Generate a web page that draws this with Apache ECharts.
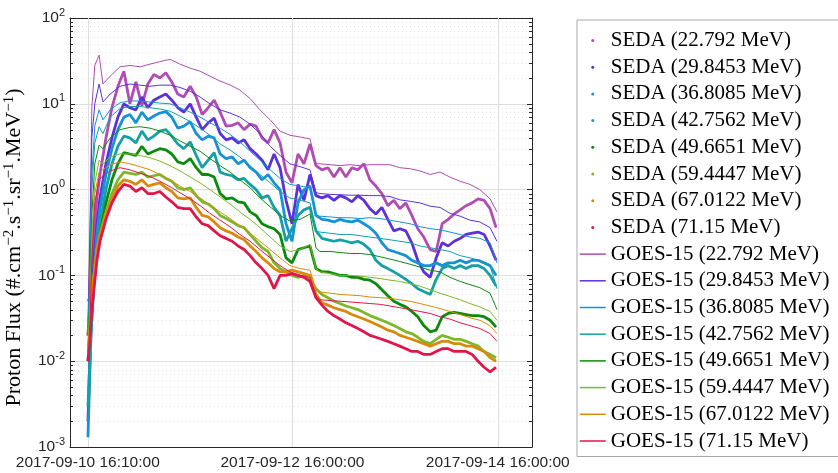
<!DOCTYPE html>
<html lang="en">
<head>
  <meta charset="UTF-8">
  <title>Proton Flux</title>
  <style>
    html, body { margin: 0; padding: 0; background: #fff; }
    #chart { width: 838px; height: 473px; }
  </style>
</head>
<body>
  <div id="chart"></div>
  <script src="https://cdn.jsdelivr.net/npm/echarts@6.0.0/dist/echarts.min.js"></script>
  <script>
    // energies and colours, same order for SEDA and GOES-15
    var energies = ['22.792', '29.8453', '36.8085', '42.7562', '49.6651', '59.4447', '67.0122', '71.15'];
    var colors = ['#b04cb4', '#5b31d8', '#1692d6', '#179fa6', '#0b8b0b', '#7ab82e', '#d98a0a', '#e0164a'];

    // x in hours since 2017-09-10 12:00:00
    var xTickHours = [4 + 10 / 60, 52, 100];
    var xTickLabels = ['2017-09-10 16:10:00', '2017-09-12 16:00:00', '2017-09-14 16:00:00'];

    // SEDA samples
    var sedaHours = [4.2, 4.9, 5.6, 6.3, 7.0,
      8.4, 9.8, 11.2, 12.6, 14.0, 15.4, 16.8, 18.2, 19.6, 21.0,
      22.4, 23.8, 25.2, 26.6, 28.1, 29.5, 30.9, 32.3, 33.7, 35.1,
      36.5, 37.9, 39.3, 40.7, 42.1, 43.5, 44.9, 46.3, 47.7, 49.1,
      50.5, 51.9, 53.3, 54.7, 56.1, 57.5, 58.9, 60.3, 61.7, 63.1,
      64.5, 65.9, 67.3, 68.7, 70.1, 71.5, 72.9, 74.3, 75.7, 77.1,
      78.5, 79.9, 81.3, 82.7, 84.2, 85.6, 87.0, 88.4, 89.8, 91.2,
      92.6, 94.0, 95.4, 96.8, 98.2, 99.6];
    var seda1 = [0.02, 0.08, 0.3, 0.8, 1.5,
      4.0, 9, 16, 24, 10, 18, 9.5, 17, 22, 20,
      23, 18, 13, 12, 16, 12, 7.5, 9, 11, 8,
      5.5, 5.6, 6, 5, 5.8, 5.5, 4, 3.5, 5, 3.5,
      1.6, 1.2, 2.6, 2.0, 3.4, 1.9, 1.7, 1.8, 1.4, 1.8,
      1.4, 1.8, 1.7, 2.0, 1.3, 1.1, 0.9, 0.65, 0.75, 0.6,
      0.7, 0.5, 0.35, 0.28, 0.2, 0.19, 0.4, 0.45, 0.52, 0.58,
      0.65, 0.7, 0.78, 0.75, 0.6, 0.36];
    var seda2 = [0.002, 0.03, 0.15, 0.4, 0.8,
      2.0, 4.0, 7, 10, 9, 8.5, 12, 9, 11, 12,
      13, 11, 9, 8, 10, 7, 5, 6, 6.8, 4.5,
      3.8, 4.0, 3.5, 3.8, 3.0, 2.6, 2.2, 1.7, 2.6, 1.8,
      0.75, 0.4, 1.15, 0.75, 1.5, 0.85, 0.8, 0.85, 0.75, 0.85,
      0.8, 0.72, 0.85, 0.75, 0.6, 0.52, 0.62, 0.45, 0.33, 0.35,
      0.33, 0.24, 0.15, 0.11, 0.095, 0.16, 0.24, 0.22, 0.25, 0.27,
      0.3, 0.31, 0.32, 0.3, 0.22, 0.15];
    var seda3 = [0.0013, 0.02, 0.1, 0.3, 0.6,
      1.5, 3.0, 5, 7, 7.5, 6, 8, 6.5, 7.2, 7.8,
      8.1, 7, 5.2, 5.5, 6.2, 4.5, 3.8, 4.2, 4.0, 2.6,
      2.3, 2.4, 2.0, 2.2, 1.8, 1.6, 1.3, 1.5, 1.2, 1.0,
      0.4, 0.25, 0.7, 1.0, 1.1, 0.5, 0.45, 0.44, 0.42, 0.45,
      0.43, 0.42, 0.44, 0.4, 0.36, 0.31, 0.24, 0.2, 0.19, 0.18,
      0.17, 0.15, 0.14, 0.13, 0.13, 0.14, 0.13, 0.14, 0.14, 0.15,
      0.14, 0.15, 0.15, 0.14, 0.13, 0.1];
    var seda4 = [0.003, 0.02, 0.08, 0.2, 0.4,
      1.0, 2.0, 3.2, 4.2, 4.0, 3.5, 4.8, 3.8, 4.2, 4.8,
      5.0, 4.2, 3.4, 3.0, 3.6, 2.5, 1.8, 2.2, 2.7, 1.6,
      1.5, 1.45, 1.3, 1.35, 1.15, 1.0, 0.8, 0.85, 0.62, 0.5,
      0.25, 0.35, 0.5, 0.58, 0.62, 0.33, 0.27, 0.26, 0.25, 0.26,
      0.25, 0.24, 0.25, 0.23, 0.2, 0.15, 0.13, 0.12, 0.11, 0.1,
      0.09, 0.08, 0.07, 0.065, 0.06, 0.09, 0.12, 0.13, 0.12, 0.13,
      0.12, 0.13, 0.13, 0.12, 0.1, 0.075];
    var seda5 = [0.01, 0.03, 0.08, 0.18, 0.3,
      0.7, 1.3, 2.0, 2.7, 2.6, 2.5, 3.2, 2.6, 2.8, 3.0,
      2.9, 2.6, 2.1, 2.0, 2.3, 1.8, 1.5, 1.5, 1.4, 0.9,
      0.78, 0.8, 0.72, 0.7, 0.55, 0.5, 0.4, 0.37, 0.35, 0.3,
      0.16, 0.14, 0.2, 0.21, 0.22, 0.12, 0.11, 0.11, 0.105, 0.1,
      0.1, 0.095, 0.095, 0.09, 0.088, 0.08, 0.068, 0.058, 0.05, 0.046,
      0.043, 0.038, 0.033, 0.026, 0.022, 0.023, 0.033, 0.036, 0.037, 0.036,
      0.035, 0.034, 0.034, 0.033, 0.03, 0.025];
    var seda6 = [0.02, 0.05, 0.1, 0.2, 0.3,
      0.55, 0.9, 1.3, 1.6, 1.55, 1.5, 1.6, 1.4, 1.45, 1.5,
      1.35, 1.25, 1.05, 1.0, 1.05, 0.85, 0.72, 0.68, 0.6, 0.5,
      0.46, 0.42, 0.38, 0.36, 0.3, 0.25, 0.21, 0.19, 0.14, 0.12,
      0.11, 0.1, 0.095, 0.1, 0.09, 0.07, 0.06, 0.055, 0.05, 0.047,
      0.044, 0.042, 0.04, 0.037, 0.034, 0.032, 0.03, 0.028, 0.026, 0.024,
      0.022, 0.021, 0.019, 0.017, 0.016, 0.018, 0.02, 0.019, 0.018, 0.018,
      0.017, 0.016, 0.015, 0.013, 0.012, 0.011];
    var seda7 = [0.05, 0.06, 0.1, 0.2, 0.3,
      0.5, 0.8, 1.1, 1.3, 1.25, 1.15, 1.3, 1.1, 1.15, 1.2,
      1.05, 0.95, 0.8, 0.78, 0.8, 0.62, 0.5, 0.48, 0.42, 0.36,
      0.33, 0.31, 0.28, 0.26, 0.22, 0.19, 0.16, 0.14, 0.12, 0.11,
      0.11, 0.115, 0.11, 0.105, 0.1, 0.06, 0.048, 0.045, 0.042, 0.04,
      0.038, 0.035, 0.033, 0.031, 0.029, 0.027, 0.025, 0.023, 0.022, 0.02,
      0.019, 0.018, 0.017, 0.016, 0.015, 0.016, 0.017, 0.017, 0.016, 0.016,
      0.015, 0.015, 0.014, 0.013, 0.011, 0.01];
    var seda8 = [0.01, 0.03, 0.07, 0.15, 0.25,
      0.45, 0.7, 0.95, 1.15, 1.1, 0.95, 1.05, 0.9, 0.9, 0.95,
      0.82, 0.72, 0.62, 0.6, 0.6, 0.48, 0.4, 0.38, 0.33, 0.29,
      0.27, 0.25, 0.22, 0.2, 0.17, 0.14, 0.12, 0.1, 0.07, 0.1,
      0.1, 0.105, 0.1, 0.095, 0.085, 0.055, 0.045, 0.038, 0.034, 0.031,
      0.028, 0.026, 0.024, 0.022, 0.02, 0.019, 0.018, 0.017, 0.016, 0.015,
      0.014, 0.013, 0.013, 0.012, 0.012, 0.013, 0.014, 0.014, 0.013, 0.013,
      0.013, 0.012, 0.01, 0.0085, 0.0075, 0.0085];

    // GOES-15 samples
    var goesHours = [4.2, 4.7, 5.1, 5.8, 6.8, 7.7, 9.4,
      11.7, 14.0, 16.4, 18.7, 21.0, 23.4, 25.7, 28.1, 30.4, 32.7,
      35.1, 37.4, 39.7, 42.1, 44.4, 46.8, 49.1, 51.4, 53.8, 56.1,
      57.5, 58.4,
      60.8, 63.1, 65.5, 67.8, 70.1, 72.5, 74.8, 77.1, 79.5, 81.8,
      84.2, 86.5, 88.8, 91.2, 93.5, 95.8, 98.2,
      99.8];
    var goes1 = [0.03, 0.5, 9, 28, 37, 17, 21,
      27, 28, 27, 29, 31, 33, 29, 26, 24, 21,
      18.4, 16.6, 14.5, 11.5, 8.5, 6.5, 4.8, 4.3, 4.1, 3.9,
      2.0, 2.0,
      1.95, 1.9, 1.95, 1.9, 1.95, 1.95, 1.95, 1.8, 1.75, 1.65,
      1.5, 1.6, 1.4, 1.25, 1.15, 1.0, 0.78,
      0.55];
    var goes2 = [0.02, 0.3, 4, 10, 17, 10.5, 13,
      16, 17, 16.5, 16, 16.5, 16.5, 15.5, 14, 12, 10,
      8.5, 7.8, 7.0, 5.8, 4.5, 3.2, 2.5, 2.0, 1.85, 1.7,
      0.92, 0.9,
      0.88, 0.87, 0.86, 0.86, 0.85, 0.85, 0.83, 0.76, 0.73, 0.7,
      0.64, 0.62, 0.53, 0.49, 0.44, 0.42, 0.36,
      0.25];
    var goes3 = [0.02, 0.15, 1.5, 5.5, 8.5, 6.5, 8.5,
      10.3, 10.8, 10.8, 10.5, 10.2, 10, 9, 8, 7, 6,
      5.2, 4.4, 3.6, 2.8, 2.2, 1.7, 1.35, 1.15, 1.1, 1.05,
      0.5, 0.49,
      0.48, 0.47, 0.47, 0.46, 0.47, 0.46, 0.44, 0.42, 0.4, 0.37,
      0.35, 0.34, 0.32, 0.3, 0.28, 0.27, 0.24,
      0.14];
    var goes4 = [0.02, 0.1, 1.0, 3.5, 5.4, 4.5, 7,
      8.8, 9.3, 9.3, 9, 8.7, 8.2, 7.2, 6.2, 5.2, 4.3,
      3.4, 2.9, 2.4, 1.9, 1.5, 1.2, 0.95, 0.8, 0.75, 0.7,
      0.33, 0.32,
      0.31, 0.3, 0.3, 0.29, 0.28, 0.27, 0.26, 0.25, 0.24, 0.22,
      0.21, 0.2, 0.19, 0.17, 0.16, 0.15, 0.13,
      0.07];
    var goes5 = [0.015, 0.06, 0.5, 2.0, 3.3, 3.0, 4.0,
      5.0, 5.3, 5.4, 5.2, 4.8, 4.3, 3.7, 3.2, 2.8, 2.3,
      1.9, 1.6, 1.3, 1.05, 0.8, 0.63, 0.5, 0.43, 0.45, 0.52,
      0.21, 0.19,
      0.19, 0.185, 0.18, 0.18, 0.175, 0.165, 0.155, 0.145, 0.135, 0.125,
      0.115, 0.11, 0.095, 0.085, 0.078, 0.072, 0.062,
      0.04];
    var goes6 = [0.015, 0.05, 0.3, 1.2, 2.2, 2.0, 2.4,
      2.6, 2.6, 2.5, 2.35, 2.15, 1.9, 1.65, 1.4, 1.2, 1.0,
      0.82, 0.68, 0.55, 0.45, 0.36, 0.28, 0.22, 0.19, 0.2, 0.23,
      0.12, 0.11,
      0.105, 0.1, 0.1, 0.098, 0.095, 0.092, 0.088, 0.085, 0.08, 0.075,
      0.068, 0.062, 0.057, 0.052, 0.047, 0.043, 0.038,
      0.03];
    var goes7 = [0.012, 0.04, 0.2, 0.9, 1.6, 1.7, 1.95,
      2.1, 2.0, 1.85, 1.7, 1.5, 1.3, 1.1, 0.95, 0.8, 0.66,
      0.55, 0.46, 0.38, 0.31, 0.25, 0.2, 0.16, 0.13, 0.12, 0.115,
      0.068, 0.064,
      0.062, 0.06, 0.059, 0.058, 0.056, 0.055, 0.054, 0.052, 0.05, 0.047,
      0.044, 0.041, 0.038, 0.035, 0.032, 0.03, 0.026,
      0.021];
    var goes8 = [0.01, 0.03, 0.15, 0.7, 1.3, 1.45, 1.65,
      1.8, 1.7, 1.55, 1.42, 1.25, 1.08, 0.92, 0.78, 0.65, 0.53,
      0.44, 0.37, 0.3, 0.25, 0.2, 0.16, 0.13, 0.11, 0.1, 0.095,
      0.058, 0.052,
      0.051, 0.05, 0.049, 0.048, 0.047, 0.046, 0.044, 0.042, 0.04, 0.038,
      0.036, 0.033, 0.031, 0.028, 0.026, 0.024, 0.021,
      0.017];

    var sedaData = [seda1, seda2, seda3, seda4, seda5, seda6, seda7, seda8];
    var goesData = [goes1, goes2, goes3, goes4, goes5, goes6, goes7, goes8];

    var xMin = 0, xMax = 108, yMin = 0.001, yMax = 100;
    var axisColor = '#262626';

    // minor log ticks 2..9 in each decade
    var yMinor = [];
    for (var d = -3; d < 2; d++) {
      for (var k = 2; k < 10; k++) yMinor.push(+(k * Math.pow(10, d)).toPrecision(3));
    }

    function pairs(xs, ys) {
      return xs.map(function (x, i) { return [x, ys[i]]; });
    }

    var chart = echarts.init(document.getElementById('chart'));
    var series = [];
    var legendData = [];

    // grid lines drawn by hand so they sit on the log minor ticks and custom x ticks
    series.push({
      type: 'custom',
      silent: true,
      z: 1,
      data: yMinor.map(function (v) { return [xMin, v]; }),
      renderItem: function (params, api) {
        var v = api.value(1);
        var a = api.coord([xMin, v]);
        var b = api.coord([xMax, v]);
        var y = Math.round(a[1]) + 0.5;
        return {
          type: 'group',
          children: [
            { type: 'line', shape: { x1: a[0], y1: y, x2: b[0], y2: y }, style: { stroke: '#e4e4e4', lineWidth: 1, lineDash: [1, 3] } },
            { type: 'line', shape: { x1: a[0], y1: y, x2: a[0] + 3, y2: y }, style: { stroke: axisColor, lineWidth: 1 } },
            { type: 'line', shape: { x1: b[0] - 3, y1: y, x2: b[0], y2: y }, style: { stroke: axisColor, lineWidth: 1 } }
          ]
        };
      }
    });
    series.push({
      type: 'custom',
      silent: true,
      z: 1,
      data: xTickHours.map(function (h) { return [h, 1]; }),
      renderItem: function (params, api) {
        var h = api.value(0);
        var a = api.coord([h, yMin]);
        var b = api.coord([h, yMax]);
        var x = Math.round(a[0]) + 0.5;
        return { type: 'line', shape: { x1: x, y1: a[1], x2: x, y2: b[1] }, style: { stroke: '#dedede', lineWidth: 1 } };
      }
    });

    sedaData.forEach(function (vals, i) {
      var name = 'SEDA (' + energies[i] + ' MeV)';
      legendData.push({ name: name, icon: 'circle' });
      series.push({
        name: name,
        type: 'line',
        data: pairs(sedaHours, vals),
        symbol: 'circle',
        showSymbol: false,
        lineStyle: { width: 2.8, color: colors[i] },
        itemStyle: { color: colors[i], borderWidth: 0 },
        z: 2
      });
    });
    goesData.forEach(function (vals, i) {
      var name = 'GOES-15 (' + energies[i] + ' MeV)';
      // transparent item colour hides the middle marker of the line icon
      legendData.push({ name: name, itemStyle: { color: 'rgba(0,0,0,0)', borderWidth: 0 }, lineStyle: { width: 1.5, color: colors[i] } });
      series.push({
        name: name,
        type: 'line',
        data: pairs(goesHours, vals),
        symbol: 'none',
        lineStyle: { width: 1, color: colors[i] },
        itemStyle: { color: colors[i] },
        z: 3
      });
    });

    var tickLabelStyle = { color: axisColor, fontFamily: 'Liberation Sans', fontSize: 15.5 };

    var option = {
      animation: false,
      grid: { left: 70, top: 18, width: 462, height: 429, containLabel: false, outerBoundsMode: 'none' },
      legend: {
        orient: 'vertical',
        left: 577,
        top: 20,
        padding: [10, 12, 5, 2],
        itemWidth: 26,
        itemHeight: 3,
        itemGap: 5.7,
        selectedMode: false,
        backgroundColor: '#fff',
        borderColor: '#a8a8a8',
        borderWidth: 1,
        itemStyle: { borderWidth: 0 },
        lineStyle: { width: 1 },
        textStyle: { fontFamily: 'Liberation Serif', fontSize: 21, lineHeight: 20, color: '#000' },
        data: legendData
      },
      xAxis: [{
        type: 'value',
        min: xMin,
        max: xMax,
        position: 'bottom',
        axisLine: { show: true, onZero: false, lineStyle: { color: axisColor, width: 1 } },
        axisTick: { show: true, inside: true, length: 5, customValues: xTickHours, lineStyle: { color: axisColor } },
        axisLabel: {
          customValues: xTickHours,
          margin: 8,
          color: tickLabelStyle.color,
          fontFamily: tickLabelStyle.fontFamily,
          fontSize: tickLabelStyle.fontSize,
          formatter: function (v) {
            for (var i = 0; i < xTickHours.length; i++) {
              if (Math.abs(xTickHours[i] - v) < 1e-6) return xTickLabels[i];
            }
            return '';
          }
        },
        splitLine: { show: false }
      }, {
        type: 'value',
        min: xMin,
        max: xMax,
        position: 'top',
        axisLine: { show: true, onZero: false, lineStyle: { color: axisColor, width: 1 } },
        axisTick: { show: true, inside: true, length: 5, customValues: xTickHours, lineStyle: { color: axisColor } },
        axisLabel: { show: false },
        splitLine: { show: false }
      }],
      yAxis: [{
        type: 'log',
        logBase: 10,
        min: yMin,
        max: yMax,
        position: 'left',
        axisLine: { show: true, onZero: false, lineStyle: { color: axisColor, width: 1 } },
        axisTick: { show: true, inside: true, length: 5, lineStyle: { color: axisColor } },
        axisLabel: {
          margin: 5,
          formatter: function (v) {
            return '{b|10}{s|' + Math.round(Math.log10(v)) + '}';
          },
          rich: {
            b: { color: axisColor, fontFamily: 'Liberation Sans', fontSize: 15.5, lineHeight: 22 },
            s: { color: axisColor, fontFamily: 'Liberation Sans', fontSize: 11, lineHeight: 11, verticalAlign: 'top' }
          }
        },
        splitLine: { show: true, lineStyle: { color: '#dedede', width: 1 } },
        name: 'Proton Flux (#.cm{s|\u22122}.s{s|\u22121}.sr{s|\u22121}.MeV{s|\u22121})',
        nameLocation: 'middle',
        nameGap: 34,
        nameRotate: 90,
        nameTextStyle: {
          fontFamily: 'Liberation Serif',
          fontSize: 22,
          lineHeight: 26,
          color: '#000',
          padding: [0, 30, 0, 0],
          rich: {
            s: { fontFamily: 'Liberation Serif', fontSize: 15, lineHeight: 15, verticalAlign: 'top', color: '#000' }
          }
        }
      }, {
        type: 'log',
        logBase: 10,
        min: yMin,
        max: yMax,
        position: 'right',
        axisLine: { show: true, onZero: false, lineStyle: { color: axisColor, width: 1 } },
        axisTick: { show: true, inside: true, length: 5, lineStyle: { color: axisColor } },
        axisLabel: { show: false },
        splitLine: { show: false }
      }],
      series: series
    };

    chart.setOption(option);
  </script>
</body>
</html>
